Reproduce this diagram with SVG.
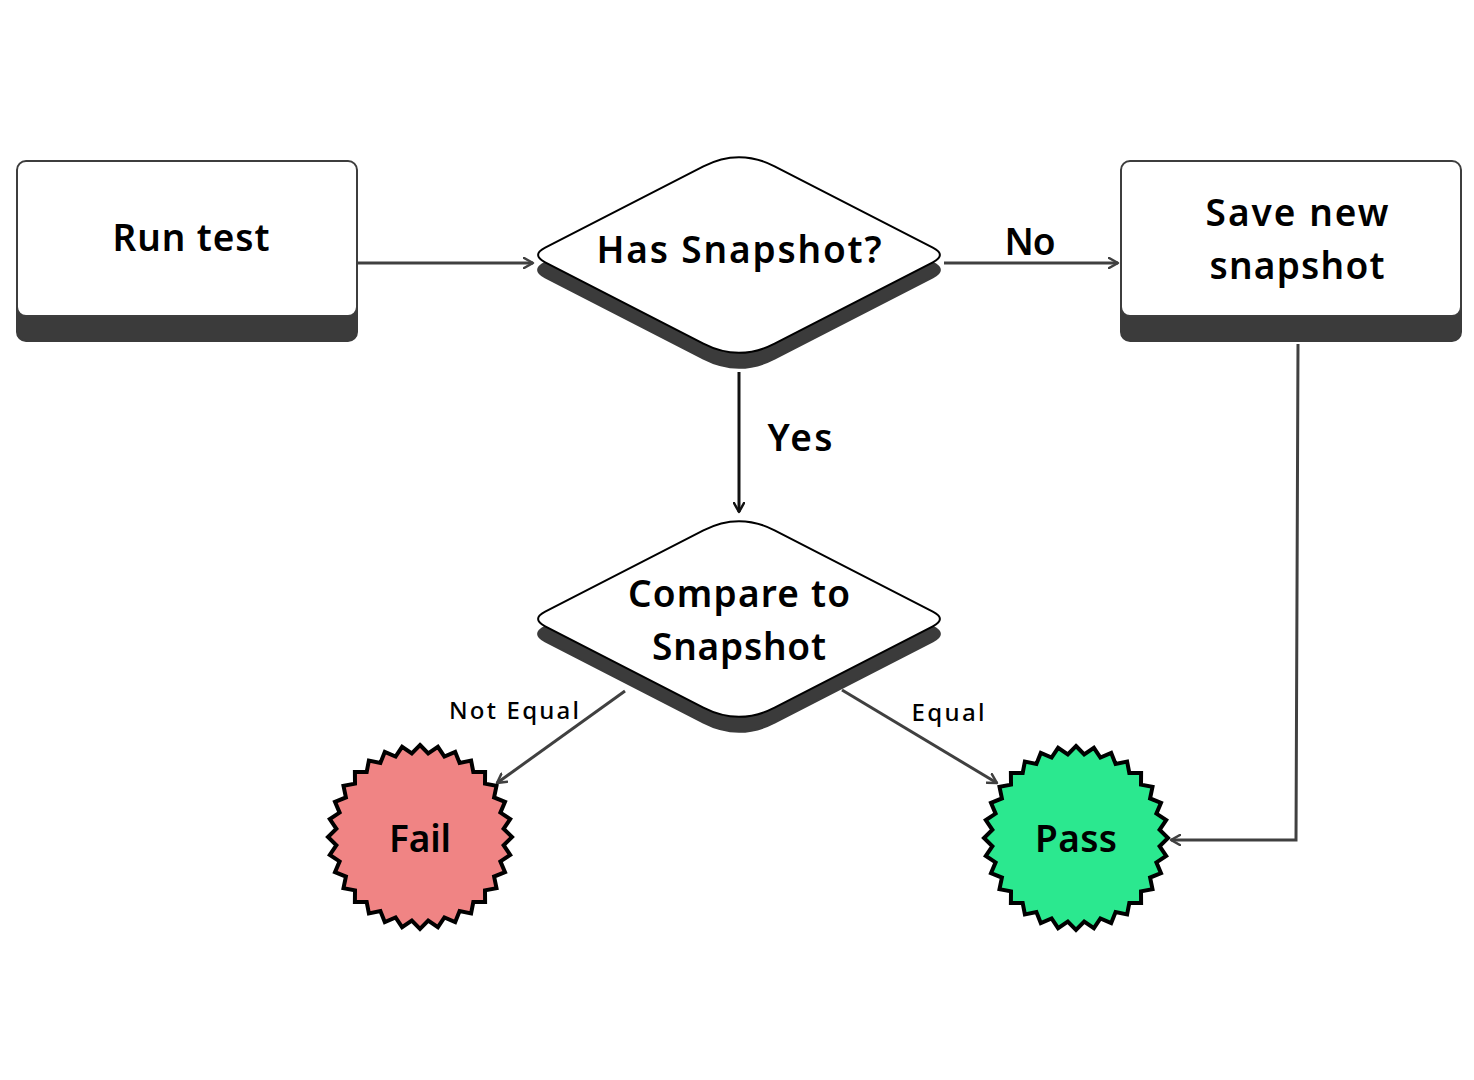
<svg xmlns="http://www.w3.org/2000/svg" width="1474" height="1080" viewBox="0 0 1474 1080">
<style>
.t{font-family:"Noto Sans","Liberation Sans",sans-serif;font-weight:600;fill:#000;text-anchor:middle}
.big{font-size:37px}
.sm{font-size:24px;font-weight:500}
.box{fill:#fff;stroke:#3d3d3d;stroke-width:2}
.shadow{fill:#3b3b3b;stroke:#3b3b3b;stroke-width:2}
.dia{fill:#fff;stroke:#000;stroke-width:2}
.conn{fill:none;stroke:#404040;stroke-width:3}
.star{stroke:#000;stroke-width:4;stroke-linejoin:miter}
</style>
<defs>
<marker id="arr" viewBox="0 0 12 12" refX="10" refY="6" markerWidth="12" markerHeight="12" markerUnits="userSpaceOnUse" orient="auto">
<path d="M1,1 L10,6 L1,11" fill="none" stroke="#404040" stroke-width="2.5" stroke-linecap="round" stroke-linejoin="round"/>
</marker>
<marker id="arrb" viewBox="0 0 12 12" refX="10" refY="6" markerWidth="12" markerHeight="12" markerUnits="userSpaceOnUse" orient="auto">
<path d="M1,1 L10,6 L1,11" fill="none" stroke="#111" stroke-width="2.5" stroke-linecap="round" stroke-linejoin="round"/>
</marker>
<path id="dshape" d="M-35.6,-88.7 Q0,-107 35.6,-88.7 L193.8,-7.3 Q208,0 193.8,7.3 L35.6,88.7 Q0,107 -35.6,88.7 L-193.8,7.3 Q-208,0 -193.8,-7.3 Z"/>
</defs>

<g id="connectors">
<path class="conn" d="M358,263 L533,263" marker-end="url(#arr)"/>
<path class="conn" d="M944,263 L1118,263" marker-end="url(#arr)"/>
<path d="M739,372 L739,512" fill="none" stroke="#111" stroke-width="3" marker-end="url(#arrb)"/>
<path class="conn" d="M625,691 L497,783" marker-end="url(#arr)"/>
<path class="conn" d="M842,690 L997,783" marker-end="url(#arr)"/>
<path class="conn" d="M1298,344 L1296,840 L1171,840" marker-end="url(#arr)"/>
<text class="t big" x="800" y="451" textLength="65">Yes</text>
<text class="t big" x="1030" y="255" textLength="51">No</text>
<text class="t sm" x="514" y="719" textLength="130">Not Equal</text>
<text class="t sm" x="948" y="721" textLength="73">Equal</text>
</g>

<g id="run-test">
<rect class="shadow" x="17" y="175" width="340" height="166" rx="9"/>
<rect class="box" x="17" y="161" width="340" height="155" rx="9"/>
<text class="t big" x="191" y="251" textLength="157">Run test</text>
</g>

<g id="has-snapshot">
<use href="#dshape" class="shadow" x="739" y="270"/>
<use href="#dshape" class="dia" x="739" y="255"/>
<text class="t big" x="739" y="263" textLength="285">Has Snapshot?</text>
</g>

<g id="save-new-snapshot">
<rect class="shadow" x="1121" y="175" width="340" height="166" rx="9"/>
<rect class="box" x="1121" y="161" width="340" height="155" rx="9"/>
<text class="t big" x="1297" y="226" textLength="183">Save new</text>
<text class="t big" x="1297" y="279" textLength="175">snapshot</text>
</g>

<g id="compare-to-snapshot">
<use href="#dshape" class="shadow" x="739" y="634"/>
<use href="#dshape" class="dia" x="739" y="619"/>
<text class="t big" x="739" y="607" textLength="222">Compare to</text>
<text class="t big" x="739" y="660" textLength="174">Snapshot</text>
</g>

<g id="fail">
<polygon class="star" fill="#f08484" transform="translate(420,837)" points="0.0,-92.0 8.2,-83.6 17.9,-90.2 24.4,-80.4 35.2,-85.0 39.6,-74.1 51.1,-76.5 53.3,-65.0 65.1,-65.1 65.0,-53.3 76.5,-51.1 74.1,-39.6 85.0,-35.2 80.4,-24.4 90.2,-17.9 83.6,-8.2 92.0,0.0 83.6,8.2 90.2,17.9 80.4,24.4 85.0,35.2 74.1,39.6 76.5,51.1 65.0,53.3 65.1,65.1 53.3,65.0 51.1,76.5 39.6,74.1 35.2,85.0 24.4,80.4 17.9,90.2 8.2,83.6 0.0,92.0 -8.2,83.6 -17.9,90.2 -24.4,80.4 -35.2,85.0 -39.6,74.1 -51.1,76.5 -53.3,65.0 -65.1,65.1 -65.0,53.3 -76.5,51.1 -74.1,39.6 -85.0,35.2 -80.4,24.4 -90.2,17.9 -83.6,8.2 -92.0,0.0 -83.6,-8.2 -90.2,-17.9 -80.4,-24.4 -85.0,-35.2 -74.1,-39.6 -76.5,-51.1 -65.0,-53.3 -65.1,-65.1 -53.3,-65.0 -51.1,-76.5 -39.6,-74.1 -35.2,-85.0 -24.4,-80.4 -17.9,-90.2 -8.2,-83.6"/>
<text class="t big" x="420" y="852" textLength="62">Fail</text>
</g>

<g id="pass">
<polygon class="star" fill="#2be88f" transform="translate(1076,838)" points="0.0,-92.0 8.2,-83.6 17.9,-90.2 24.4,-80.4 35.2,-85.0 39.6,-74.1 51.1,-76.5 53.3,-65.0 65.1,-65.1 65.0,-53.3 76.5,-51.1 74.1,-39.6 85.0,-35.2 80.4,-24.4 90.2,-17.9 83.6,-8.2 92.0,0.0 83.6,8.2 90.2,17.9 80.4,24.4 85.0,35.2 74.1,39.6 76.5,51.1 65.0,53.3 65.1,65.1 53.3,65.0 51.1,76.5 39.6,74.1 35.2,85.0 24.4,80.4 17.9,90.2 8.2,83.6 0.0,92.0 -8.2,83.6 -17.9,90.2 -24.4,80.4 -35.2,85.0 -39.6,74.1 -51.1,76.5 -53.3,65.0 -65.1,65.1 -65.0,53.3 -76.5,51.1 -74.1,39.6 -85.0,35.2 -80.4,24.4 -90.2,17.9 -83.6,8.2 -92.0,0.0 -83.6,-8.2 -90.2,-17.9 -80.4,-24.4 -85.0,-35.2 -74.1,-39.6 -76.5,-51.1 -65.0,-53.3 -65.1,-65.1 -53.3,-65.0 -51.1,-76.5 -39.6,-74.1 -35.2,-85.0 -24.4,-80.4 -17.9,-90.2 -8.2,-83.6"/>
<text class="t big" x="1076" y="852" textLength="82">Pass</text>
</g>
</svg>
